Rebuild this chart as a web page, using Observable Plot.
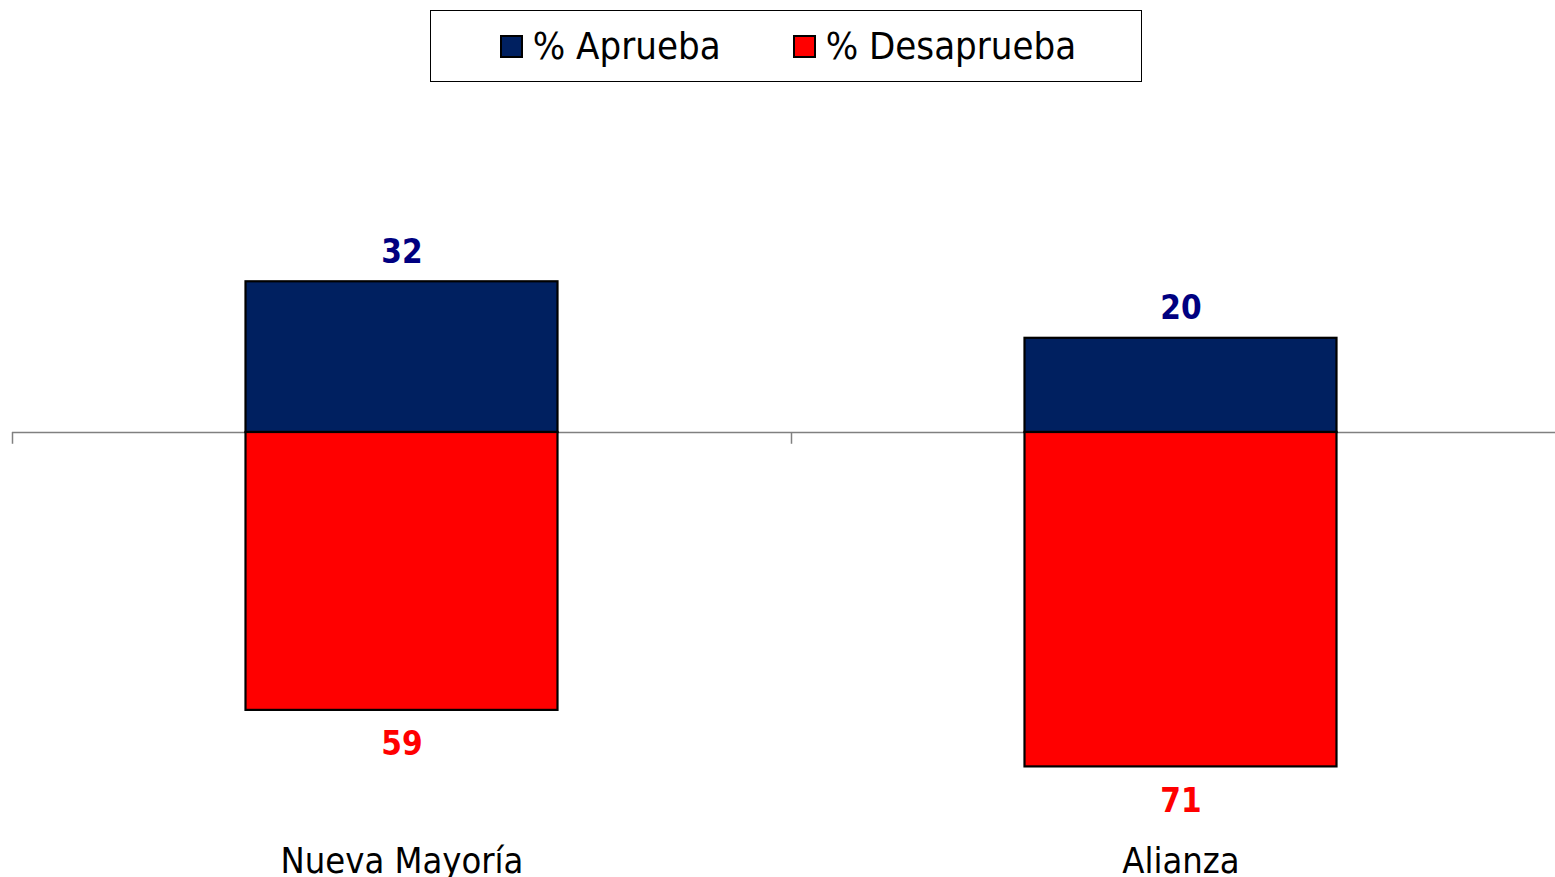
<!DOCTYPE html>
<html>
<head>
<meta charset="utf-8">
<script src="https://cdn.jsdelivr.net/npm/d3@7"></script>
<script src="https://cdn.jsdelivr.net/npm/@observablehq/plot@0.6"></script>
<style>
  html, body { margin: 0; padding: 0; background: #fff; }
  #wrap { position: relative; width: 1555px; height: 877px; overflow: hidden; }
  #legend {
    position: absolute; left: 430px; top: 10px; width: 712px; height: 72px;
    border: 1px solid #000; display: flex; align-items: center; justify-content: center;
    gap: 72px; padding-left: 4px; box-sizing: border-box;
    font-family: "DejaVu Sans Condensed", "DejaVu Sans", sans-serif; font-stretch: condensed;
    font-size: 38px; color: #000;
  }
  #legend .item { display: flex; align-items: center; gap: 10px; }
  #legend .sw { width: 19px; height: 19px; border: 2px solid #000; }
  #chart { position: absolute; left: 0; top: 0; }
</style>
</head>
<body>
<div id="wrap">
  <div id="chart"></div>
  <div id="legend"></div>
</div>
<script>
const categories = ["Nueva Mayoría", "Alianza"];
const aprueba = [32, 20];
const desaprueba = [59, 71];
const seriesNames = ["% Aprueba", "% Desaprueba"];
const seriesColors = ["#002060", "#FF0000"];
const labelColors = ["#000080", "#FF0000"];

const rows = categories.map((c, i) => ({cat: c, i, ap: aprueba[i], de: desaprueba[i]}));
const bounds = d3.range(categories.length + 1);

const font = '"DejaVu Sans Condensed", "DejaVu Sans", sans-serif';

const chart = Plot.plot({
  width: 1555,
  height: 877,
  marginLeft: 12,
  marginRight: 0,
  marginTop: 0,
  marginBottom: 5,
  x: {domain: [0, categories.length], range: [12, 1570], axis: null},
  y: {domain: [-100, 60], range: [903, 149.4], axis: null},
  style: {fontFamily: font, background: "transparent", overflow: "hidden"},
  marks: [
    Plot.ruleY([0], {stroke: "#808080", strokeWidth: 1.5}),
    Plot.ruleX(bounds, {x: d => d, y1: 0, y2: -2.5, stroke: "#808080", strokeWidth: 1.5}),
    Plot.rectY(rows, {x1: "i", x2: d => d.i + 1, y1: 0, y2: "ap", fill: seriesColors[0], stroke: "#000", strokeWidth: 2.2, insetLeft: 233.5, insetRight: 233.5}),
    Plot.rectY(rows, {x1: "i", x2: d => d.i + 1, y1: 0, y2: d => -d.de, fill: seriesColors[1], stroke: "#000", strokeWidth: 2.2, insetLeft: 233.5, insetRight: 233.5}),
    Plot.text(rows, {x: d => d.i + 0.5, y: "ap", text: d => String(d.ap), lineAnchor: "bottom", dy: -19, fill: labelColors[0], fontSize: 33, fontWeight: "bold", fontStretch: "condensed"}),
    Plot.text(rows, {x: d => d.i + 0.5, y: d => -d.de, text: d => String(d.de), lineAnchor: "top", dy: 21.6, fill: labelColors[1], fontSize: 33, fontWeight: "bold", fontStretch: "condensed"}),
    Plot.text(rows, {x: d => d.i + 0.5, frameAnchor: "bottom", text: "cat", lineAnchor: "bottom", fill: "#000", fontSize: 36, fontStretch: "condensed"})
  ]
});
document.getElementById("chart").appendChild(chart);

const legend = document.getElementById("legend");
seriesNames.forEach((name, k) => {
  const item = document.createElement("div");
  item.className = "item";
  const sw = document.createElement("div");
  sw.className = "sw";
  sw.style.background = seriesColors[k];
  const t = document.createElement("span");
  t.textContent = name;
  item.appendChild(sw);
  item.appendChild(t);
  legend.appendChild(item);
});
</script>
</body>
</html>
